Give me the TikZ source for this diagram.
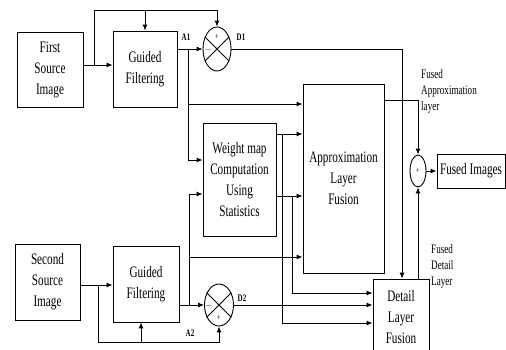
\documentclass[tikz,border=0pt]{standalone}
\usepackage{fontspec}
\setmainfont[FakeStretch=0.7]{Liberation Serif}
\usetikzlibrary{arrows.meta, calc, positioning, shapes.geometric}

\begin{document}
\begin{tikzpicture}[x=1pt, y=-1pt,
    box/.style={draw, line width=0.9pt, inner sep=0pt, align=center, font=\fontsize{16}{21}\selectfont},
    mixer/.style={draw, ellipse, line width=0.9pt, inner sep=0pt},
    sign/.style={inner sep=0pt, font=\fontsize{9}{9}\selectfont},
    tag/.style={inner sep=0pt, font=\fontsize{10}{12}\selectfont\bfseries},
    note/.style={inner sep=0pt, align=left, font=\fontsize{13}{16}\selectfont},
    flow/.style={line width=0.9pt, -{Latex[length=6pt,width=5pt]}},
    wire/.style={line width=0.9pt}]
    \useasboundingbox (0,0) rectangle (506,349);
    \clip (0,0) rectangle (506,349);

    % 方框
    \node[box, minimum width=66pt, minimum height=75pt] (src1) at (50,69.5) {First\\Source\\Image};
    \node[box, minimum width=64pt, minimum height=76pt] (gf1) at (145,69) {Guided\\Filtering};
    \node[box, minimum width=65pt, minimum height=76pt] (src2) at (47.5,282) {Second\\Source\\Image};
    \node[box, minimum width=66pt, minimum height=76pt] (gf2) at (146,284) {Guided\\Filtering};
    \node[box, minimum width=73pt, minimum height=113pt] (wm) at (239.5,179.5) {Weight map\\Computation\\Using\\Statistics};
    \node[box, minimum width=81pt, minimum height=189pt] (alf) at (343.5,178.5) {Approximation\\Layer\\Fusion};
    \node[box, minimum width=56pt, minimum height=76pt] (dlf) at (401,317) {Detail\\Layer\\Fusion};
    \node[box, minimum width=68pt, minimum height=34pt] (fused) at (471,171) {Fused Images};

    % 差分与求和
    \node[mixer, minimum width=28pt, minimum height=44pt] (d1) at (217,49) {};
    \draw[wire] (d1.135) -- (d1.-45) (d1.45) -- (d1.-135);
    \node[sign] (d1p) at (217,37) {+};
    \node[sign] (d1m) at (208,50) {$-$};
    \node[mixer, minimum width=29pt, minimum height=42pt] (d2) at (219,305) {};
    \draw[wire] (d2.135) -- (d2.-45) (d2.45) -- (d2.-135);
    \node[sign] (d2m) at (209,306) {$-$};
    \node[sign] (d2p) at (219,318) {+};
    \node[mixer, minimum width=16pt, minimum height=32pt] (sum) at (418,171) {};
    \node[sign] (sump) at (418,171) {+};

    % 上支路
    \coordinate (b1) at (94,65);
    \coordinate (top1) at (94,10);
    \draw[flow] (src1.east |- b1) -- (gf1.west |- b1);
    \draw[flow] (b1) -- (top1) -| (d1.north);
    \draw[flow] (gf1.north |- top1) -- (gf1.north);
    \draw[flow] (gf1.east |- d1.west) -- (d1.west);
    \coordinate (a1) at (188,49);
    \coordinate (a1m) at (188,104);
    \draw[flow] (a1) -- (a1m) -- (alf.west |- a1m);
    \draw[flow] (a1m) |- ([yshift=19.5pt]wm.west);
    \coordinate (d1r) at (402,49);
    \draw[flow] (d1.east) -- (d1r) -- (d1r |- dlf.north);

    % 权重图输出
    \coordinate (w1) at (282,134);
    \coordinate (w2) at (292,196);
    \draw[flow] (wm.east |- w1) -- (alf.west |- w1);
    \draw[flow] (wm.east |- w2) -- (alf.west |- w2);
    \draw[flow] (w1) |- ([yshift=-6pt]dlf.west);
    \draw[flow] (w2) |- ([yshift=24pt]dlf.west);

    % 下支路
    \coordinate (b2) at (98,285);
    \coordinate (bot2) at (98,342);
    \coordinate (g2in) at (141,342);
    \draw[flow] (src2.east |- b2) -- (gf2.west |- b2);
    \draw[flow] (b2) -- (bot2) -| (d2.south);
    \draw[flow] (g2in) -- (g2in |- gf2.south);
    \draw[flow] (gf2.east |- d2.west) -- (d2.west);
    \coordinate (a2) at (189,305);
    \coordinate (a2m) at (189,257);
    \draw[flow] (a2) -- (a2m) -- (alf.west |- a2m);
    \draw[flow] (a2m) |- ([yshift=-14.5pt]wm.west);
    \draw[flow] (d2.east) -- (dlf.west |- d2.east);

    % 融合输出
    \coordinate (s1) at (418,100);
    \draw[flow] (alf.east |- s1) -- (s1) -- (sum.north);
    \draw[flow] (sum.south |- dlf.north) -- (sum.south);
    \draw[flow] (sum.east) -- (fused.west);

    % 标签
    \node[tag] (lA1) at (186,37) {A1};
    \node[tag] (lD1) at (241,37) {D1};
    \node[tag] (lA2) at (190,333) {A2};
    \node[tag] (lD2) at (242,298) {D2};
    \node[note, anchor=west] (nA) at (421,91) {Fused\\Approximation\\layer};
    \node[note, anchor=west] (nD) at (431,266) {Fused\\Detail\\Layer};
\end{tikzpicture}
\end{document}
